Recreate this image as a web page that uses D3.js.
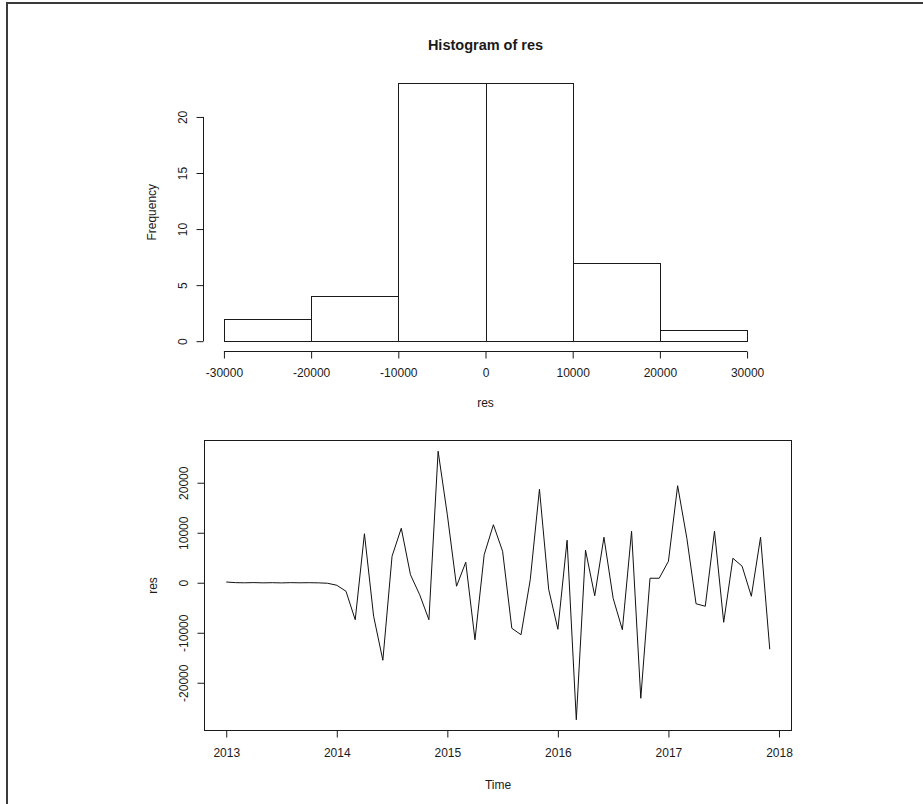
<!DOCTYPE html>
<html>
<head>
<meta charset="utf-8">
<script src="https://cdn.jsdelivr.net/npm/d3@7"></script>
<style>
  html, body { margin: 0; padding: 0; background: #fff; }
  svg { display: block; }
  text { font-family: "Liberation Sans", Arial, Helvetica, sans-serif; fill: #1a1a1a; }
</style>
</head>
<body>
<svg id="chart" width="923" height="804"></svg>
<script>
// Monthly residual series, starting January 2013
const startYear = 2013;
const frequency = 12;
const res = [
  150, 20, -10, 30, -20, 10, -30, 20, -10, 10, -20, -100,
  -500, -1700, -7400, 9800, -6700, -15500, 5300, 10900, 1600, -2400, -7400, 26300,
  13600, -700, 4100, -11400, 5600, 11600, 6300, -9100, -10400, 600, 18700, -1300,
  -9300, 8500, -27400, 6500, -2600, 9100, -3100, -9400, 10300, -23100, 900, 900,
  4300, 19400, 8900, -4200, -4700, 10300, -7900, 4900, 3300, -2700, 9100, -13300
];

// Histogram breaks and axis ticks
const histBreaks = [-30000, -20000, -10000, 0, 10000, 20000, 30000];
const freqTicks = [0, 5, 10, 15, 20];
const yearTicks = [2013, 2014, 2015, 2016, 2017, 2018];
const resTicks = [-20000, -10000, 0, 10000, 20000];

// Right-closed bins, lowest break included
const histCounts = histBreaks.slice(0, -1).map((lo, k) => {
  const hi = histBreaks[k + 1];
  return res.filter(v => (k === 0 ? v >= lo : v > lo) && v <= hi).length;
});
const bins = histCounts.map((c, k) => ({ x0: histBreaks[k], x1: histBreaks[k + 1], count: c }));

// Axis ranges padded by 4% on each side
function padded(ext) {
  const d = (ext[1] - ext[0]) * 0.04;
  return [ext[0] - d, ext[1] + d];
}

const svg = d3.select("#chart");
const ink = "#1a1a1a";

// Window frame
svg.append("path")
  .attr("d", "M7,804V3H923")
  .attr("fill", "none")
  .attr("stroke", "#3a3a3a")
  .attr("stroke-width", 2);

function styleAxis(g) {
  g.select(".domain").remove();
  g.selectAll(".tick line").attr("stroke", ink);
  g.selectAll(".tick text").attr("fill", ink).style("font-size", "12px");
}

// ---------- Histogram ----------
const hp = { left: 203, right: 768, top: 73, bottom: 351.5 };
const hx = d3.scaleLinear().domain(padded(d3.extent(histBreaks))).range([hp.left, hp.right]);
const hy = d3.scaleLinear().domain(padded([0, d3.max(histCounts)])).range([hp.bottom, hp.top]);

svg.append("g")
  .selectAll("rect")
  .data(bins)
  .join("rect")
  .attr("x", d => Math.round(hx(d.x0)) + 0.5)
  .attr("y", d => Math.round(hy(d.count)) + 0.5)
  .attr("width", d => Math.round(hx(d.x1)) - Math.round(hx(d.x0)))
  .attr("height", d => Math.round(hy(0)) - Math.round(hy(d.count)))
  .attr("fill", "none")
  .attr("stroke", ink)
  .attr("stroke-width", 1);

const hxAxis = svg.append("g")
  .attr("transform", `translate(0,${hp.bottom})`)
  .call(d3.axisBottom(hx).tickValues(histBreaks).tickFormat(d3.format("d")).tickSize(7).tickPadding(10).tickSizeOuter(0))
  .call(styleAxis);
hxAxis.selectAll(".tick text").text(d => String(d));
hxAxis.append("line")
  .attr("x1", hx(histBreaks[0])).attr("x2", hx(histBreaks[histBreaks.length - 1]))
  .attr("stroke", ink);

const hyAxis = svg.append("g")
  .attr("transform", `translate(${hp.left + 0.5},0)`)
  .call(d3.axisLeft(hy).tickValues(freqTicks).tickSize(7).tickSizeOuter(0))
  .call(styleAxis);
hyAxis.selectAll(".tick text")
  .attr("x", null).attr("dy", null)
  .attr("text-anchor", "middle")
  .attr("transform", "translate(-17,0) rotate(-90)");
hyAxis.append("line")
  .attr("y1", hy(freqTicks[0])).attr("y2", hy(freqTicks[freqTicks.length - 1]))
  .attr("stroke", ink);

svg.append("text")
  .attr("x", (hp.left + hp.right) / 2).attr("y", 50)
  .attr("text-anchor", "middle")
  .style("font-size", "14.5px").style("font-weight", "bold")
  .text("Histogram of res");
svg.append("text")
  .attr("x", (hp.left + hp.right) / 2).attr("y", hp.bottom + 55)
  .attr("text-anchor", "middle").style("font-size", "12px")
  .text("res");
svg.append("text")
  .attr("transform", `translate(156,${(hp.top + hp.bottom) / 2}) rotate(-90)`)
  .attr("text-anchor", "middle").style("font-size", "12px")
  .text("Frequency");

// ---------- Time series ----------
const tp = { left: 204.5, right: 791.5, top: 440.5, bottom: 730.5 };
const times = res.map((_, i) => startYear + i / frequency);
const tx = d3.scaleLinear().domain(padded(d3.extent(times))).range([tp.left, tp.right]);
const ty = d3.scaleLinear().domain(padded(d3.extent(res))).range([tp.bottom, tp.top]);

svg.append("path")
  .datum(res)
  .attr("fill", "none")
  .attr("stroke", "#111")
  .attr("stroke-width", 1)
  .attr("stroke-linejoin", "miter")
  .attr("d", d3.line().x((d, i) => tx(times[i])).y(d => ty(d)));

svg.append("rect")
  .attr("x", tp.left).attr("y", tp.top)
  .attr("width", tp.right - tp.left).attr("height", tp.bottom - tp.top)
  .attr("fill", "none").attr("stroke", ink);

svg.append("g")
  .attr("transform", `translate(0,${tp.bottom})`)
  .call(d3.axisBottom(tx).tickValues(yearTicks).tickFormat(d3.format("d")).tickSize(7).tickPadding(11).tickSizeOuter(0))
  .call(styleAxis);

const tyAxis = svg.append("g")
  .attr("transform", `translate(${tp.left},0)`)
  .call(d3.axisLeft(ty).tickValues(resTicks).tickFormat(d => String(d)).tickSize(7).tickSizeOuter(0))
  .call(styleAxis);
tyAxis.selectAll(".tick text")
  .attr("x", null).attr("dy", null)
  .attr("text-anchor", "middle")
  .attr("transform", "translate(-17,0) rotate(-90)");

svg.append("text")
  .attr("x", (tp.left + tp.right) / 2).attr("y", tp.bottom + 58)
  .attr("text-anchor", "middle").style("font-size", "12px")
  .text("Time");
svg.append("text")
  .attr("transform", `translate(157,${(tp.top + tp.bottom) / 2}) rotate(-90)`)
  .attr("text-anchor", "middle").style("font-size", "12px")
  .text("res");
</script>
</body>
</html>
